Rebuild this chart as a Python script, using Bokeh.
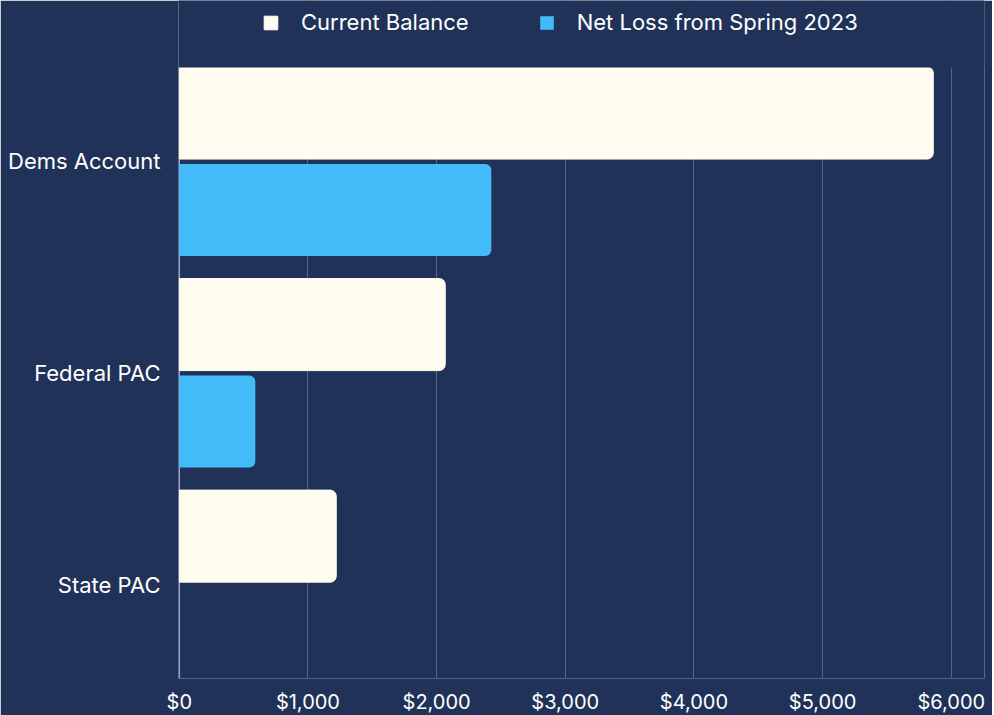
from bokeh.plotting import figure
from bokeh.models import Range1d, FixedTicker, NumeralTickFormatter, Legend, LegendItem, Span, BoxAnnotation, ColumnDataSource
from bokeh.embed import file_html
from bokeh.resources import INLINE

categories = ["Dems Account", "Federal PAC", "State PAC"]
current_balance = [5860, 2067, 1220]
net_loss = [2425, 591, 0]
x_ticks = [0, 1000, 2000, 3000, 4000, 5000, 6000]

BG = "#213259"
CREAM = "#FFFCF0"
BLUE = "#42BBF8"
FONT = "Inter"

idx = list(range(len(categories)))
off = 0.229
src = ColumnDataSource(dict(
    y_cur=[i - off for i in idx],
    y_net=[i + off for i in idx],
    cur=current_balance,
    net=net_loss,
))

Y_TOP_PLOT = -0.444   # top of the bar area
Y_TOP_FRAME = -0.761  # extra room for the legend

p = figure(frame_width=806, frame_height=678, output_backend="svg", toolbar_location=None,
           x_range=Range1d(-6, 6258), y_range=Range1d(2.444, Y_TOP_FRAME),
           min_border_left=178, min_border_right=8, min_border_top=0, min_border_bottom=35)
p.background_fill_color = BG
p.border_fill_color = BG
p.outline_line_color = None

p.xgrid.ticker = FixedTicker(ticks=x_ticks)
p.xgrid.grid_line_color = "#56648A"
p.xgrid.grid_line_width = 1
p.ygrid.grid_line_color = None
p.add_layout(Span(location=0, dimension="height", line_color="#9AA3BD", line_width=1.5, level="underlay"), "center")

r1 = p.hbar(y="y_cur", right="cur", left=0, height=0.435, source=src,
            fill_color=CREAM, line_color=CREAM, border_radius=(0, 6, 6, 0))
r2 = p.hbar(y="y_net", right="net", left=0, height=0.435, source=src,
            fill_color=BLUE, line_color=None, border_radius=(0, 6, 6, 0))

# cover the grid above the bar area (legend zone)
p.add_layout(BoxAnnotation(bottom=Y_TOP_PLOT, top=Y_TOP_FRAME, fill_color=BG, fill_alpha=1,
                           line_color=None, level="annotation"), "center")

p.xaxis.ticker = FixedTicker(ticks=x_ticks)
p.xaxis.formatter = NumeralTickFormatter(format="$0,0")
p.yaxis.ticker = FixedTicker(ticks=idx)
p.yaxis.major_label_overrides = {i: c for i, c in zip(idx, categories)}
for ax in (p.xaxis, p.yaxis):
    ax.axis_line_color = None
    ax.major_tick_line_color = None
    ax.minor_tick_line_color = None
    ax.major_tick_out = 0
    ax.major_tick_in = 0
    ax.major_label_text_color = "#FFFFFF"
    ax.major_label_text_font = FONT
    ax.major_label_text_font_size = "22px"
p.xaxis.major_label_text_font_size = "20px"
p.xaxis.major_label_standoff = 11
p.yaxis.major_label_standoff = 18

legend = Legend(items=[LegendItem(label="Current Balance", renderers=[r1]),
                       LegendItem(label="Net Loss from Spring 2023", renderers=[r2])],
                orientation="horizontal", location=(84, 643),
                background_fill_alpha=0, border_line_color=None,
                label_text_color="#FFFFFF", label_text_font=FONT, label_text_font_size="22px",
                glyph_width=17, glyph_height=17, label_standoff=22, spacing=69,
                padding=0, margin=0)
p.add_layout(legend, "center")

open("out.html", "w").write(file_html(p, INLINE))
